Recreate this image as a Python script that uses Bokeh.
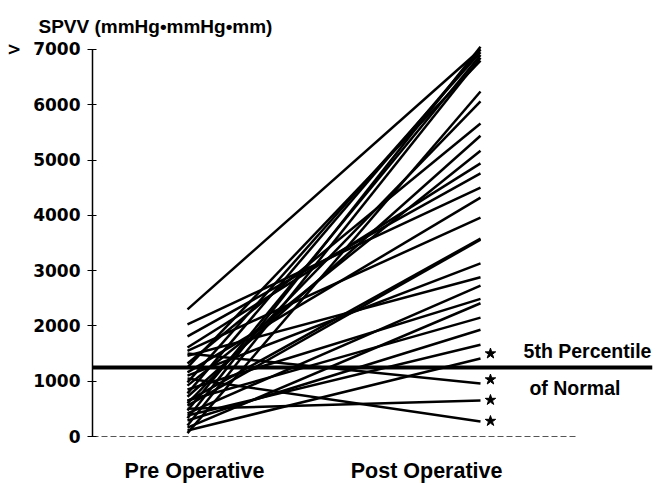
from bokeh.plotting import figure
from bokeh.models import Span, FixedTicker
from bokeh.core.properties import value
from bokeh.embed import file_html
from bokeh.resources import INLINE

# ---- data ----
pre_values = [2300, 2030, 1810, 1610, 1550, 1500, 1460, 1320, 1250, 1160,
              1100, 1050, 980, 920, 850, 780, 720, 650, 640, 600,
              560, 500, 470, 420, 380, 330, 290, 200, 160, 110, 60]
post_values = [7000, 4500, 4760, 4940, 3960, 960, 2880, 5660, 6800, 4320,
               3130, 270, 6950, 5170, 2490, 7000, 5440, 2150, 3580, 6060,
               3560, 650, 6900, 2730, 1660, 7050, 1930, 6850, 2410, 1410, 6240]
stage_x = [1, 2]
category_labels = ["Pre Operative", "Post Operative"]
category_label_x = [1.024, 1.816]
y_ticks = [0, 1000, 2000, 3000, 4000, 5000, 6000, 7000]
threshold = 1250
threshold_labels = ["5th Percentile", "of Normal"]
star_values = [1500, 1030, 660, 280]

FONT = "Liberation Sans"

p = figure(width=668, height=483,
           x_range=(0.6758, 2.587), y_range=(-850, 7090),
           output_backend="svg", toolbar_location=None,
           x_axis_location=None,
           min_border_left=92, min_border_right=16,
           min_border_top=44, min_border_bottom=0,
           title="SPVV (mmHg\u2022mmHg\u2022mm)")
p.outline_line_color = None
p.grid.visible = False
p.background_fill_color = "white"

p.title.align = "left"
p.title.offset = -54
p.title.standoff = 16
p.title.text_font = FONT
p.title.text_font_style = "bold"
p.title.text_font_size = "19px"
p.title.text_color = "black"

ax = p.yaxis[0]
ax.ticker = FixedTicker(ticks=y_ticks)
ax.bounds = (0, 7000)
ax.axis_line_color = "black"
ax.axis_line_width = 1.5
ax.major_tick_line_color = "black"
ax.major_tick_line_width = 1
ax.major_tick_out = 5
ax.major_tick_in = 4
ax.minor_tick_line_color = None
ax.major_label_standoff = 7
ax.major_label_text_font = "DejaVu Sans"
ax.major_label_text_font_style = "bold"
ax.major_label_text_font_size = "17px"
ax.major_label_text_color = "black"
ax.major_label_overrides = {7000: ">\u00a0\u00a07000"}

# dashed baseline
p.segment(x0=[0.6758], y0=[0], x1=[2.331], y1=[0],
          line_color="#555555", line_width=1, line_dash="6 3")

# individual patient lines
xs = [stage_x for _ in pre_values]
ys = [[a, b] for a, b in zip(pre_values, post_values)]
p.multi_line(xs=xs, ys=ys, line_color="black", line_width=2.5)

# threshold line
p.add_layout(Span(location=threshold, dimension="width",
                  line_color="black", line_width=4))

# stars
p.scatter(x=[2.034] * len(star_values), y=star_values, marker="star",
          size=11, color="black")

# labels
p.text(x=category_label_x, y=[-615, -615], text=category_labels,
       text_align="center", text_baseline="middle",
       text_font=value(FONT), text_font_style="bold",
       text_font_size="21.5px", text_color="black")
p.text(x=[2.147, 2.167], y=[1555, 886], text=threshold_labels,
       text_align="left", text_baseline="middle",
       text_font=value(FONT), text_font_style="bold",
       text_font_size="19.5px", text_color="black")

open("out.html", "w").write(file_html(p, INLINE))
